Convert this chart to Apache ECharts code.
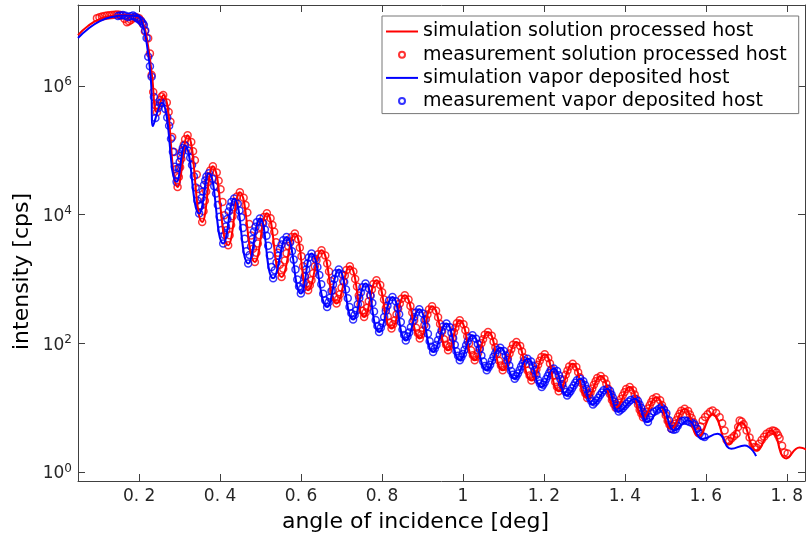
<!DOCTYPE html>
<html><head><meta charset="utf-8">
<script src="https://cdn.jsdelivr.net/npm/echarts@6/dist/echarts.min.js"></script>
<style>html,body{margin:0;padding:0;background:#fff}#chart{width:806px;height:537px}</style>
</head><body><div id="chart"></div>
<script>
// ---- axis ticks ----
const xTickValues = [0.2, 0.4, 0.6, 0.8, 1, 1.2, 1.4, 1.6, 1.8];
const xTickLabels = ['0. 2', '0. 4', '0. 6', '0. 8', '1', '1. 2', '1. 4', '1. 6', '1. 8'];
const yTickValues = [1, 1e2, 1e4, 1e6];
const yTickExponents = ['0', '2', '4', '6'];
const xTitle = 'angle of incidence [deg]';
const yTitle = 'intensity [cps]';
const seriesNames = ['simulation solution processed host', 'measurement solution processed host',
  'simulation vapor deposited host', 'measurement vapor deposited host'];

// ---- series: [angle (deg), intensity (cps)] ----
const simSolution = [
  [0.049, 6.1e6], [0.0736, 8.45e6], [0.1032, 1.09e7], [0.1328, 1.21e7], [0.1649, 1.25e7], [0.1946, 1.17e7],
  [0.2094, 9.4e6], [0.2217, 4.3e6], [0.2316, 1.47e6], [0.244, 3.9e5], [0.2595, 7.2e5], [0.295, 2.7e4],
  [0.3198, 1.71e5], [0.3558, 7.7e3], [0.3822, 5.66e4], [0.42, 3.36e3], [0.4489, 2.23e4], [0.4859, 1.85e3],
  [0.5156, 1.05e4], [0.5519, 1.08e3], [0.5847, 5.1e3], [0.6175, 673], [0.6506, 2.81e3], [0.6877, 418],
  [0.7205, 1.58e3], [0.7558, 259], [0.7864, 962], [0.8235, 171], [0.8563, 562], [0.8933, 120],
  [0.9237, 379], [0.9632, 78.7], [0.9921, 230], [1.0291, 55.1], [1.062, 151], [1.0983, 38.5],
  [1.1321, 106], [1.1691, 26.9], [1.202, 68.2], [1.2365, 18.2], [1.2711, 48.9], [1.3069, 14.4],
  [1.3402, 31.6], [1.3773, 10.1], [1.4119, 21.2], [1.4447, 7.24], [1.4778, 14.8], [1.5148, 4.79],
  [1.5477, 9.8], [1.5822, 3.64], [1.6168, 7.98], [1.6563, 2.73], [1.6877, 6.0], [1.7254, 2.2],
  [1.7617, 4.5], [1.7988, 1.66], [1.8316, 2.45], [1.86, 2.0]
];
const measSolution = [
  [0.0958, 1.12e7], [0.102, 1.16e7], [0.1082, 1.19e7], [0.1144, 1.21e7], [0.1205, 1.23e7], [0.1267, 1.24e7],
  [0.1328, 1.25e7], [0.139, 1.26e7], [0.1452, 1.28e7], [0.1514, 1.26e7], [0.1575, 1.23e7], [0.1637, 1.1e7],
  [0.1699, 9.7e6], [0.1748, 1.0e7], [0.1798, 1.05e7], [0.1847, 1.12e7], [0.1896, 1.17e7], [0.1946, 1.15e7],
  [0.1995, 1.12e7], [0.2045, 1.03e7], [0.2094, 9.1e6], [0.2143, 7.0e6], [0.2224, 5.45e6], [0.2267, 3.16e6],
  [0.2309, 1.47e6], [0.2348, 8.0e5], [0.2403, 5.0e5],
  [0.244, 3.9e5], [0.2479, 4.92e5], [0.2518, 6.01e5], [0.2556, 6.84e5], [0.2595, 7.18e5], [0.2684, 5.52e5], [0.2729, 3.92e5], [0.2773, 2.77e5], [0.2817, 1.61e5], [0.2861, 9.4e4], [0.2906, 5.05e4],
  [0.295, 2.7e4], [0.2981, 3.85e4], [0.3012, 5.46e4], [0.3043, 7.4e4], [0.3074, 1.0e5], [0.3105, 1.22e5], [0.3136, 1.48e5], [0.3198, 1.71e5], [0.3288, 1.34e5], [0.3333, 9.66e4], [0.3378, 6.98e4], [0.3423, 4.19e4], [0.3468, 2.51e4], [0.3513, 1.39e4],
  [0.3558, 7.73e3], [0.3591, 1.13e4], [0.3624, 1.65e4], [0.3657, 2.29e4], [0.369, 3.18e4], [0.3723, 3.92e4], [0.3756, 4.83e4], [0.3822, 5.66e4], [0.3917, 4.52e4], [0.3964, 3.36e4], [0.4011, 2.49e4], [0.4059, 1.57e4], [0.4106, 9.82e3], [0.4153, 5.74e3],
  [0.42, 3.36e3], [0.4236, 4.82e3], [0.4272, 6.9e3], [0.4309, 9.44e3], [0.4345, 1.29e4], [0.4381, 1.57e4], [0.4417, 1.92e4], [0.4489, 2.23e4], [0.4582, 1.83e4], [0.4628, 1.41e4], [0.4674, 1.08e4], [0.4721, 7.19e3], [0.4767, 4.76e3], [0.4813, 2.97e3],
  [0.4859, 1.85e3], [0.4896, 2.58e3], [0.4933, 3.58e3], [0.4971, 4.78e3], [0.5008, 6.37e3], [0.5045, 7.66e3], [0.5082, 9.18e3], [0.5156, 1.05e4], [0.5247, 8.79e3], [0.5293, 6.92e3], [0.5338, 5.45e3], [0.5383, 3.74e3], [0.5428, 2.57e3], [0.5474, 1.67e3],
  [0.5519, 1.08e3], [0.556, 1.45e3], [0.5601, 1.95e3], [0.5642, 2.52e3], [0.5683, 3.26e3], [0.5724, 3.84e3], [0.5765, 4.51e3], [0.5847, 5.1e3], [0.5929, 4.17e3], [0.597, 3.08e3], [0.6011, 2.27e3], [0.6052, 1.59e3], [0.6093, 1.12e3], [0.6134, 867],
  [0.6175, 673], [0.6217, 805], [0.6258, 962], [0.63, 1.24e3], [0.6341, 1.59e3], [0.6382, 1.97e3], [0.6423, 2.44e3], [0.6506, 2.81e3], [0.6599, 2.32e3], [0.6646, 1.75e3], [0.6692, 1.31e3], [0.6738, 940], [0.6784, 673], [0.6831, 531],
  [0.6877, 418], [0.6918, 494], [0.6959, 583], [0.7, 736], [0.7041, 929], [0.7082, 1.14e3], [0.7123, 1.39e3], [0.7205, 1.58e3], [0.7293, 1.32e3], [0.7338, 1.01e3], [0.7382, 767], [0.7426, 560], [0.747, 407], [0.7514, 325],
  [0.7558, 259], [0.7597, 305], [0.7635, 360], [0.7673, 453], [0.7711, 569], [0.775, 693], [0.7788, 843], [0.7864, 962], [0.7957, 809], [0.8004, 625], [0.805, 482], [0.8096, 356], [0.8142, 263], [0.8189, 212],
  [0.8235, 171], [0.8276, 199], [0.8317, 230], [0.8358, 284], [0.8399, 349], [0.844, 418], [0.8481, 499], [0.8563, 562], [0.8656, 482], [0.8702, 382], [0.8748, 303], [0.8795, 231], [0.8841, 176], [0.8887, 145],
  [0.8933, 120], [0.8971, 138], [0.9009, 160], [0.9047, 195], [0.9085, 239], [0.9123, 284], [0.9161, 338], [0.9237, 379], [0.9336, 324], [0.9386, 256], [0.9435, 202], [0.9484, 154], [0.9533, 117], [0.9583, 95.9],
  [0.9632, 78.7], [0.9668, 90.2], [0.9704, 103], [0.9741, 124], [0.9777, 150], [0.9813, 176], [0.9849, 207], [0.9921, 230], [1.0014, 200], [1.006, 161], [1.0106, 130], [1.0153, 101], [1.0199, 78.7], [1.0245, 65.9],
  [1.0291, 55.1], [1.0332, 62.5], [1.0373, 71], [1.0415, 84.7], [1.0456, 101], [1.0497, 117], [1.0538, 137], [1.062, 151], [1.0711, 132], [1.0757, 107], [1.0802, 87.5], [1.0847, 68.9], [1.0892, 54.2], [1.0938, 45.7],
  [1.0983, 38.5], [1.1026, 43.7], [1.1068, 49.5], [1.111, 59.2], [1.1152, 70.6], [1.1195, 82.2], [1.1237, 95.7], [1.1321, 106], [1.1414, 92.3], [1.146, 75.2], [1.1506, 61.2], [1.1553, 48.2], [1.1599, 37.9], [1.1645, 32],
  [1.1691, 26.9], [1.1732, 30.3], [1.1773, 34], [1.1815, 40], [1.1856, 47], [1.1897, 54.1], [1.1938, 62.2], [1.202, 68.2], [1.2106, 59.7], [1.215, 49], [1.2193, 40.2], [1.2236, 31.9], [1.2279, 25.3], [1.2322, 21.4],
  [1.2365, 18.2], [1.2409, 20.6], [1.2452, 23.3], [1.2495, 27.7], [1.2538, 32.9], [1.2582, 38.2], [1.2625, 44.3], [1.2711, 48.9], [1.2801, 43.3], [1.2846, 36.1], [1.289, 30], [1.2935, 24.2], [1.298, 19.5], [1.3025, 16.8],
  [1.3069, 14.4], [1.3111, 15.9], [1.3152, 17.5], [1.3194, 20.1], [1.3235, 23.1], [1.3277, 26], [1.3319, 29.2], [1.3402, 31.6], [1.3495, 28.2], [1.3542, 23.8], [1.3588, 20], [1.3634, 16.4], [1.368, 13.4], [1.3727, 11.6],
  [1.3773, 10.1], [1.3817, 11.1], [1.386, 12.1], [1.3903, 13.8], [1.3946, 15.7], [1.399, 17.6], [1.4033, 19.7], [1.4119, 21.2], [1.4201, 19], [1.4242, 16.2], [1.4283, 13.8], [1.4324, 11.4], [1.4365, 9.46], [1.4406, 8.28],
  [1.4447, 7.24], [1.4489, 7.93], [1.453, 8.67], [1.4572, 9.84], [1.4613, 11.1], [1.4654, 12.4], [1.4695, 13.8], [1.4778, 14.8], [1.4871, 13.2], [1.4917, 11.2], [1.4963, 9.44], [1.501, 7.74], [1.5056, 6.35], [1.5102, 5.52],
  [1.5148, 4.79], [1.5189, 5.24], [1.523, 5.73], [1.5272, 6.5], [1.5313, 7.36], [1.5354, 8.2], [1.5395, 9.12], [1.5477, 9.8], [1.5563, 9.02], [1.5607, 7.98], [1.565, 7.05], [1.5693, 6.1], [1.5736, 5.27], [1.5779, 4.76],
  [1.5822, 4.3], [1.5872, 5.2], [1.5921, 6.4], [1.5983, 7.3], [1.6045, 8.0], [1.6107, 8.8], [1.6168, 9.2], [1.6255, 8.4],
  [1.6341, 7.2], [1.6403, 5.8], [1.6464, 4.5], [1.6514, 3.2], [1.6575, 3.1], [1.6637, 3.4], [1.6698, 3.7], [1.676, 4.0],
  [1.6798, 5.1], [1.6835, 6.4], [1.6884, 6.2], [1.6933, 5.6], [1.7007, 4.5], [1.7081, 3.5], [1.7156, 2.83], [1.7205, 2.5],
  [1.7254, 2.45], [1.7316, 2.8], [1.7378, 3.2], [1.744, 3.6], [1.7501, 4.0], [1.7575, 4.3], [1.765, 4.5], [1.7699, 4.4],
  [1.7748, 4.2], [1.7785, 3.8], [1.7822, 3.4], [1.7884, 2.6], [1.7946, 2.05], [1.802, 1.98]
];
const simVapor = [
  [0.049, 5.5e6], [0.0736, 7.6e6], [0.1032, 1.01e7], [0.1328, 1.17e7], [0.1649, 1.23e7], [0.1946, 1.21e7],
  [0.2069, 9.7e6], [0.2193, 4.3e6], [0.2291, 1.23e6], [0.2341, 2.37e5], [0.2556, 5.45e5], [0.2926, 3.23e4],
  [0.3131, 1.2e5], [0.3484, 1.04e4], [0.3723, 4.41e4], [0.4077, 3.57e3], [0.4348, 1.79e4], [0.4694, 1.75e3],
  [0.4983, 8.73e3], [0.5311, 1.03e3], [0.5642, 4.52e3], [0.5995, 597], [0.6259, 2.5e3], [0.6644, 370],
  [0.6933, 1.41e3], [0.7286, 236], [0.7593, 855], [0.7928, 151], [0.8259, 530], [0.8588, 112],
  [0.8921, 341], [0.9262, 74.1], [0.9593, 205], [0.9921, 55.1], [1.0235, 135], [1.0588, 38.5],
  [1.0921, 86.1], [1.1279, 28.6], [1.1595, 58.5], [1.1946, 21.2], [1.2242, 41.3], [1.2575, 15.7],
  [1.2896, 28.6], [1.3212, 11.4], [1.3563, 20], [1.3847, 8.89], [1.4242, 14], [1.457, 6.07],
  [1.4901, 10.4], [1.523, 4.5], [1.5558, 6.44], [1.5928, 3.35], [1.6291, 4.0], [1.663, 2.34],
  [1.6958, 2.64], [1.7242, 1.8]
];
const measVapor = [
  [0.1477, 1.21e7], [0.1538, 1.23e7], [0.16, 1.25e7], [0.1662, 1.22e7], [0.1724, 1.17e7], [0.1786, 1.2e7],
  [0.1847, 1.23e7], [0.1897, 1.18e7], [0.1946, 1.12e7], [0.1995, 1.07e7], [0.2044, 1.01e7], [0.2081, 9.5e6],
  [0.2118, 8.75e6], [0.2152, 7.2e6], [0.2185, 5.5e6], [0.2225, 2.82e6], [0.2267, 2.0e6], [0.2309, 1.38e6],
  [0.2366, 6.7e5], [0.2403, 3.15e5], [0.2464, 4.5e5], [0.2514, 5.4e5],
  [0.2556, 5.45e5], [0.2649, 4.35e5], [0.2695, 3.23e5], [0.2741, 2.4e5], [0.2788, 1.51e5], [0.2834, 9.44e4], [0.288, 5.52e4],
  [0.2926, 3.23e4], [0.2952, 4.15e4], [0.2977, 5.32e4], [0.3003, 6.61e4], [0.3029, 8.2e4], [0.3055, 9.42e4], [0.308, 1.08e5], [0.3131, 1.2e5], [0.3219, 9.86e4], [0.3263, 7.64e4], [0.3307, 5.92e4], [0.3352, 3.95e4], [0.3396, 2.64e4], [0.344, 1.66e4],
  [0.3484, 1.04e4], [0.3514, 1.37e4], [0.3544, 1.81e4], [0.3574, 2.29e4], [0.3604, 2.9e4], [0.3634, 3.38e4], [0.3663, 3.93e4], [0.3723, 4.41e4], [0.3812, 3.61e4], [0.3856, 2.77e4], [0.39, 2.13e4], [0.3945, 1.41e4], [0.3989, 9.29e3], [0.4033, 5.77e3],
  [0.4077, 3.57e3], [0.4111, 4.85e3], [0.4145, 6.59e3], [0.4179, 8.59e3], [0.4213, 1.12e4], [0.4247, 1.33e4], [0.428, 1.57e4], [0.4348, 1.79e4], [0.4435, 1.48e4], [0.4478, 1.16e4], [0.4521, 9.1e3], [0.4565, 6.21e3], [0.4608, 4.23e3], [0.4651, 2.72e3],
  [0.4694, 1.75e3], [0.473, 2.37e3], [0.4766, 3.22e3], [0.4803, 4.2e3], [0.4839, 5.47e3], [0.4875, 6.49e3], [0.4911, 7.67e3], [0.4983, 8.73e3], [0.5065, 7.36e3], [0.5106, 5.89e3], [0.5147, 4.7e3], [0.5188, 3.3e3], [0.5229, 2.32e3], [0.527, 1.55e3],
  [0.5311, 1.03e3], [0.5353, 1.37e3], [0.5394, 1.81e3], [0.5436, 2.31e3], [0.5477, 2.94e3], [0.5518, 3.44e3], [0.5559, 4.02e3], [0.5642, 4.52e3], [0.573, 3.69e3], [0.5775, 2.72e3], [0.5819, 2.01e3], [0.5863, 1.41e3], [0.5907, 991], [0.5951, 769],
  [0.5995, 597], [0.6028, 714], [0.6061, 855], [0.6094, 1.1e3], [0.6127, 1.41e3], [0.616, 1.75e3], [0.6193, 2.17e3], [0.6259, 2.5e3], [0.6355, 2.07e3], [0.6404, 1.55e3], [0.6452, 1.16e3], [0.65, 834], [0.6548, 596], [0.6596, 470],
  [0.6644, 370], [0.668, 438], [0.6716, 516], [0.6753, 653], [0.6789, 826], [0.6825, 1.01e3], [0.6861, 1.23e3], [0.6933, 1.41e3], [0.7021, 1.18e3], [0.7066, 902], [0.711, 690], [0.7154, 505], [0.7198, 369], [0.7242, 295],
  [0.7286, 236], [0.7325, 277], [0.7363, 326], [0.7402, 408], [0.744, 511], [0.7478, 619], [0.7516, 752], [0.7593, 855], [0.7677, 719], [0.7719, 555], [0.7761, 428], [0.7803, 316], [0.7844, 233], [0.7886, 188],
  [0.7928, 151], [0.797, 177], [0.8011, 207], [0.8053, 258], [0.8094, 321], [0.8135, 387], [0.8176, 468], [0.8259, 530], [0.8341, 454], [0.8383, 360], [0.8424, 285], [0.8465, 217], [0.8506, 166], [0.8547, 136],
  [0.8588, 112], [0.863, 129], [0.8671, 149], [0.8713, 180], [0.8755, 219], [0.8797, 259], [0.8838, 305], [0.8921, 341], [0.9006, 293], [0.9049, 233], [0.9092, 185], [0.9135, 142], [0.9177, 109], [0.922, 89.7],
  [0.9262, 74.1], [0.9304, 84.1], [0.9345, 95.5], [0.9387, 114], [0.9428, 136], [0.9469, 159], [0.951, 185], [0.9593, 205], [0.9675, 179], [0.9716, 148], [0.9757, 121], [0.9798, 96.2], [0.9839, 76.4], [0.988, 64.9],
  [0.9921, 55.1], [0.9961, 61.7], [1.0, 68.9], [1.0039, 80.5], [1.0078, 94.2], [1.0118, 108], [1.0157, 123], [1.0235, 135], [1.0323, 119], [1.0368, 98.4], [1.0412, 81.5], [1.0456, 65.5], [1.05, 52.6], [1.0544, 45],
  [1.0588, 38.5], [1.063, 42.6], [1.0671, 47.1], [1.0713, 54.2], [1.0755, 62.4], [1.0797, 70.5], [1.0838, 79.4], [1.0921, 86.1], [1.1011, 77.1], [1.1056, 65.5], [1.11, 55.5], [1.1145, 45.7], [1.119, 37.7], [1.1235, 32.9],
  [1.1279, 28.6], [1.1319, 31.3], [1.1358, 34.3], [1.1398, 38.8], [1.1437, 44], [1.1477, 49], [1.1516, 54.5], [1.1595, 58.5], [1.1683, 52.8], [1.1727, 45.4], [1.1771, 39], [1.1815, 32.7], [1.1858, 27.3], [1.1902, 24],
  [1.1946, 21.2], [1.1983, 23.1], [1.202, 25.1], [1.2057, 28.2], [1.2094, 31.6], [1.2131, 35], [1.2168, 38.6], [1.2242, 41.3], [1.2325, 37.5], [1.2367, 32.4], [1.2409, 28.1], [1.2451, 23.7], [1.2492, 20], [1.2534, 17.8],
  [1.2575, 15.7], [1.2615, 17], [1.2655, 18.3], [1.2696, 20.3], [1.2736, 22.5], [1.2776, 24.7], [1.2816, 27], [1.2896, 28.6], [1.2975, 26.1], [1.3015, 22.8], [1.3054, 19.8], [1.3094, 16.9], [1.3133, 14.4], [1.3173, 12.8],
  [1.3212, 11.4], [1.3256, 12.2], [1.33, 13.1], [1.3344, 14.5], [1.3388, 16], [1.3432, 17.4], [1.3475, 18.9], [1.3563, 20], [1.3634, 18.5], [1.367, 16.3], [1.3705, 14.5], [1.3741, 12.6], [1.3776, 10.9], [1.3812, 9.84],
  [1.3847, 8.89], [1.3897, 9.42], [1.3946, 9.95], [1.3996, 10.8], [1.4045, 11.7], [1.4094, 12.5], [1.4143, 13.4], [1.4242, 14], [1.4324, 12.9], [1.4365, 11.4], [1.4406, 10], [1.4447, 8.67], [1.4488, 7.48], [1.4529, 6.75],
  [1.457, 6.07], [1.4616, 7.2], [1.4662, 8.3], [1.4724, 8.8], [1.4786, 9.2], [1.4844, 9.8], [1.4902, 10.3], [1.4964, 9.5],
  [1.5025, 8.3], [1.5087, 6.5], [1.5149, 4.8], [1.5201, 4.6], [1.5254, 4.7], [1.5304, 5.3], [1.5353, 6.07], [1.5415, 6.3],
  [1.5477, 6.44], [1.5539, 6.3], [1.56, 6.07], [1.5662, 5.9], [1.5724, 5.58], [1.5786, 4.8], [1.5847, 4.0], [1.5909, 3.7],
  [1.597, 3.55]
];

// ---- chart ----
const FONT = 'DejaVu Sans';
const AXIS_COLOR = '#404040';
const TEXT_COLOR = '#262626';
const X_MIN = 0.049, X_MAX = 1.845, Y_MIN = 0.74, Y_MAX = 1.79e7;

function xLabel(v) {
  for (let i = 0; i < xTickValues.length; i++) if (Math.abs(xTickValues[i] - v) < 1e-6) return xTickLabels[i];
  return '';
}
function yLabel(v) {
  for (let i = 0; i < yTickValues.length; i++) if (Math.abs(Math.log10(yTickValues[i]) - Math.log10(v)) < 1e-6)
    return '{b|10}{s|' + yTickExponents[i] + '}';
  return '';
}
const lineStyle = { color: AXIS_COLOR, width: 1 };
function xAx(pos, showLabel) {
  return {
    type: 'value', position: pos, min: X_MIN, max: X_MAX,
    axisLine: { show: true, onZero: false, lineStyle },
    axisTick: { show: true, inside: true, length: 7, customValues: xTickValues, lineStyle },
    axisLabel: { show: showLabel, customValues: xTickValues, formatter: xLabel, margin: 7,
      fontSize: 17, fontFamily: FONT, color: TEXT_COLOR },
    splitLine: { show: false }, minorTick: { show: false }
  };
}
function yAx(pos, showLabel) {
  return {
    type: 'log', logBase: 10, position: pos, min: Y_MIN, max: Y_MAX,
    axisLine: { show: true, onZero: false, lineStyle },
    axisTick: { show: true, inside: true, length: 7, customValues: yTickValues, lineStyle },
    axisLabel: { show: showLabel, customValues: yTickValues, formatter: yLabel, margin: 6,
      fontFamily: FONT, color: TEXT_COLOR,
      rich: {
        b: { fontSize: 17, fontFamily: FONT, color: TEXT_COLOR, lineHeight: 20, verticalAlign: 'bottom' },
        s: { fontSize: 12, fontFamily: FONT, color: TEXT_COLOR, lineHeight: 14, verticalAlign: 'top', padding: [0, 0, 10, 0] }
      } },
    splitLine: { show: false }, minorTick: { show: false }
  };
}

const LINE_ICON = 'path://M0,0H32V2H0Z';
const chart = echarts.init(document.getElementById('chart'), null, { renderer: 'canvas' });
chart.setOption({
  animation: false,
  backgroundColor: '#ffffff',
  grid: { left: 78, top: 5, right: 1, bottom: 56, containLabel: false, outerBoundsMode: 'none' },
  xAxis: [xAx('bottom', true), xAx('top', false)],
  yAxis: [yAx('left', true), yAx('right', false)],
  legend: {
    orient: 'vertical', left: 382, top: 16,
    padding: [6, 12, 3, 4], itemGap: 4.2, itemWidth: 32, itemHeight: 6,
    backgroundColor: '#ffffff', borderColor: '#777777', borderWidth: 1, borderRadius: 0,
    textStyle: { fontSize: 19, fontFamily: FONT, color: '#000000' },
    data: [
      { name: seriesNames[0], icon: LINE_ICON },
      { name: seriesNames[1], icon: 'circle' },
      { name: seriesNames[2], icon: LINE_ICON },
      { name: seriesNames[3], icon: 'circle' }
    ]
  },
  graphic: [
    { type: 'text', x: 415.5, y: 522, style: { text: xTitle, font: '22px "DejaVu Sans"', fill: '#000',
      align: 'center', verticalAlign: 'middle' } },
    { type: 'text', x: 22.7, y: 271.5, rotation: Math.PI / 2, style: { text: yTitle, font: '22px "DejaVu Sans"',
      fill: '#000', align: 'center', verticalAlign: 'middle' } }
  ],
  series: [
    { name: seriesNames[0], type: 'line', data: simSolution, smooth: 0.5, symbol: 'none',
      lineStyle: { color: '#ff0000', width: 2 }, itemStyle: { color: '#ff0000' } },
    { name: seriesNames[1], type: 'scatter', data: measSolution, symbol: 'circle', symbolSize: 7,
      itemStyle: { color: 'rgba(255,255,255,0)', borderColor: '#ff0000', borderWidth: 1.5 } },
    { name: seriesNames[2], type: 'line', data: simVapor, smooth: 0.5, symbol: 'none',
      lineStyle: { color: '#0000ff', width: 2 }, itemStyle: { color: '#0000ff' } },
    { name: seriesNames[3], type: 'scatter', data: measVapor, symbol: 'circle', symbolSize: 7,
      itemStyle: { color: 'rgba(255,255,255,0)', borderColor: '#0000ff', borderWidth: 1.5 } }
  ]
});
</script></body></html>
